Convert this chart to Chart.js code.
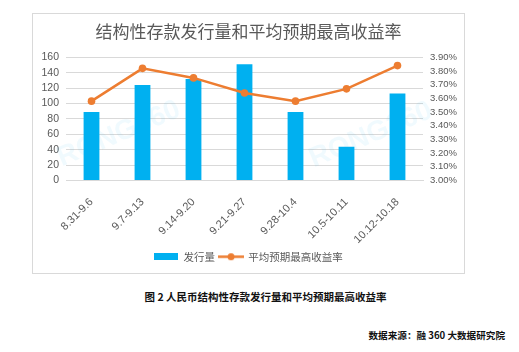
<!DOCTYPE html>
<html><head><meta charset="utf-8">
<script src="https://cdn.jsdelivr.net/npm/chart.js@4.4.0/dist/chart.umd.min.js"></script>
<style>
body{margin:0;background:#fff;width:519px;height:352px;position:relative;overflow:hidden;font-family:"Noto Sans CJK SC",sans-serif;}
#box{position:absolute;left:32px;top:13px;width:431px;height:259px;border:1px solid #d9d9d9;}
#cap{position:absolute;left:6px;width:519px;top:289px;text-align:center;font-size:10.5px;font-weight:bold;color:#111;}
#src{position:absolute;right:14px;top:328px;font-size:9.6px;font-weight:bold;color:#111;}
</style></head><body>
<div id="box"><canvas id="c" width="431" height="259"></canvas></div>
<div id="cap">图 2 人民币结构性存款发行量和平均预期最高收益率</div>
<div id="src">数据来源：融 360 大数据研究院</div>
<script>
const categories=["8.31-9.6","9.7-9.13","9.14-9.20","9.21-9.27","9.28-10.4","10.5-10.11","10.12-10.18"];
const issuance=[89,124,132,151,89,44,113];
const avgRate=[3.58,3.82,3.75,3.64,3.58,3.67,3.84];
const leftTicks=[0,20,40,60,80,100,120,140,160];
const rightTicks=[3.0,3.1,3.2,3.3,3.4,3.5,3.6,3.7,3.8,3.9];

const BLUE="#00B0F0", ORANGE="#ED7D31", TXT="#595959", GRID="#d9d9d9";
function legendImg(kind){
  const cv=document.createElement('canvas');
  if(kind==='bar'){cv.width=24;cv.height=7;const g=cv.getContext('2d');g.fillStyle=BLUE;g.fillRect(0,0,24,7);}
  else{cv.width=26;cv.height=9;const g=cv.getContext('2d');g.strokeStyle=ORANGE;g.lineWidth=2.5;g.beginPath();g.moveTo(0,4.5);g.lineTo(26,4.5);g.stroke();g.fillStyle=ORANGE;g.beginPath();g.arc(13,4.5,3.5,0,Math.PI*2);g.fill();}
  return cv;
}
const legendStyles=[legendImg('line'),legendImg('bar')];
const watermark={id:'wm',beforeDatasetsDraw(chart){
  const g=chart.ctx;g.save();g.font='bold 28px "Liberation Sans",sans-serif';g.fillStyle='rgba(0,176,240,0.06)';
  [[86,120],[338,121]].forEach(([x,y])=>{g.save();g.translate(x,y);g.rotate(-0.4);g.textAlign='center';g.textBaseline='middle';g.fillText('RONG360',0,0);g.restore();});
  g.restore();}};
new Chart(document.getElementById('c'),{
  data:{labels:categories,datasets:[
    {type:'line',label:'平均预期最高收益率',data:avgRate,yAxisID:'y2',borderColor:ORANGE,backgroundColor:ORANGE,borderWidth:2.5,pointRadius:3.8,pointBackgroundColor:ORANGE,pointBorderWidth:0,tension:0,order:0},
    {type:'bar',label:'发行量',data:issuance,yAxisID:'y',backgroundColor:BLUE,categoryPercentage:1,barPercentage:0.31,order:1}
  ]},
  options:{responsive:false,animation:false,
    layout:{padding:{left:0,right:0,top:0,bottom:1}},
    plugins:{
      title:{display:true,text:'结构性存款发行量和平均预期最高收益率',color:TXT,font:{family:'"Noto Sans CJK SC"',size:17,weight:'normal'},padding:{top:7,bottom:16}},
      legend:{position:'bottom',labels:{usePointStyle:true,pointStyleWidth:24,color:TXT,font:{family:'"Noto Sans CJK SC"',size:10.5},boxHeight:9,padding:4,
        generateLabels(chart){return [1,0].map(i=>({text:chart.data.datasets[i].label,pointStyle:legendStyles[i],fontColor:TXT,datasetIndex:i,lineWidth:0,strokeStyle:'transparent',fillStyle:'transparent'}));}}},
      tooltip:{enabled:false}
    },
    scales:{
      x:{grid:{display:false},border:{color:GRID},ticks:{color:TXT,font:{family:'"Liberation Sans"',size:11},minRotation:45,maxRotation:45,padding:7,autoSkip:false},
        afterFit(s){s.height=67;}},
      y:{position:'left',min:0,max:160,afterBuildTicks(s){s.ticks=leftTicks.map(v=>({value:v}));},
        grid:{color:GRID,drawTicks:false},border:{display:false},
        ticks:{color:TXT,font:{family:'"Liberation Sans"',size:10.5},padding:7,autoSkip:false},afterFit(s){s.width=33;}},
      y2:{position:'right',min:3.0,max:3.9,afterBuildTicks(s){s.ticks=rightTicks.map(v=>({value:v}));},
        grid:{display:false,drawTicks:false},border:{display:false},
        ticks:{color:TXT,font:{family:'"Liberation Sans"',size:9.5},padding:7,autoSkip:false,callback:v=>v.toFixed(2)+'%'},afterFit(s){s.width=41;}}
    }
  },
  plugins:[watermark]
});
</script></body></html>
